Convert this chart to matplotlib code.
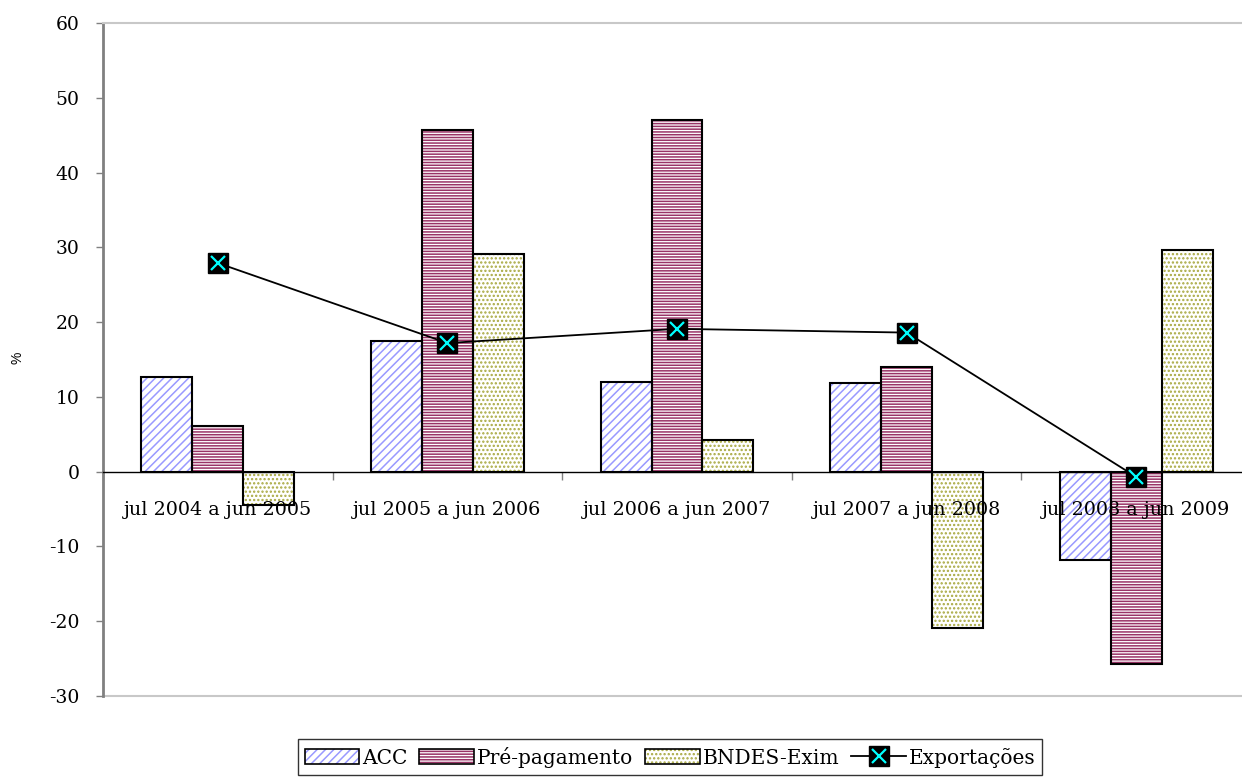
import matplotlib
matplotlib.use("Agg")
import matplotlib.pyplot as plt
import numpy as np
from matplotlib.patches import Patch
from matplotlib.lines import Line2D

categories = ["jul 2004 a jun 2005", "jul 2005 a jun 2006", "jul 2006 a jun 2007",
              "jul 2007 a jun 2008", "jul 2008 a jun 2009"]
acc = [12.6, 17.5, 12.0, 11.8, -11.8]
pre_pagamento = [6.1, 45.7, 47.0, 14.0, -25.7]
bndes_exim = [-4.4, 29.1, 4.3, -20.9, 29.6]
exportacoes = [27.9, 17.2, 19.1, 18.6, -0.7]

plt.rcParams["font.family"] = ["DejaVu Serif"]
plt.rcParams["font.size"] = 13
plt.rcParams["hatch.linewidth"] = 1.1
plt.rcParams["axes.unicode_minus"] = False

fig = plt.figure(figsize=(12.42, 7.82), dpi=100)
ax = fig.add_axes([103/1242, 86/782, 1148/1242, 673/782])

x = np.arange(len(categories))
w = 0.222
specs = [
    (acc, -w, "////", "#9999FF"),
    (pre_pagamento, 0, "------", "#993366"),
    (bndes_exim, w, "....", "#A8A840"),
]
for vals, off, hatch, hc in specs:
    ax.bar(x + off, vals, w, facecolor="white", edgecolor=hc, hatch=hatch, linewidth=0, zorder=1)
    ax.bar(x + off, vals, w, facecolor="none", edgecolor="black", linewidth=1.5, zorder=1.5)

ax.plot(x, exportacoes, color="black", lw=1.3, zorder=4)
ax.plot(x, exportacoes, ls="none", marker="s", ms=14, mfc="black", mec="black", zorder=5)
ax.plot(x, exportacoes, ls="none", marker="x", ms=10, mew=1.6, color="#00FFFF", zorder=6)

ax.set_xlim(-0.5, 4.5)
ax.set_ylim(-30, 60)
ax.set_yticks(np.arange(-30, 61, 10))
ax.tick_params(axis="y", length=5, width=1, color="#808080", pad=12, labelsize=13.5)

ax.set_xticks(np.arange(-0.5, 4.6, 1.0))
ax.set_xticklabels([""] * 6)
ax.set_xticks(x, minor=True)
ax.set_xticklabels(categories, minor=True)
ax.tick_params(axis="x", which="major", direction="out", length=6, width=1, color="#808080")
ax.tick_params(axis="x", which="minor", length=0, pad=21, labelsize=13.8)

ax.spines["bottom"].set_position(("data", 0))
ax.spines["bottom"].set_color("black")
ax.spines["bottom"].set_linewidth(1)
ax.spines["left"].set_color("#808080")
ax.spines["left"].set_linewidth(2)
ax.spines["right"].set_visible(False)
ax.spines["top"].set_color("#C8C8C8")
ax.spines["top"].set_linewidth(1.5)
ax.axhline(-30, color="#C8C8C8", lw=1.5, zorder=0.5, clip_on=False)

fig.text(17/1242, 1 - 358/782, "%", rotation=90, fontsize=10,
         fontfamily=["Liberation Sans"], ha="center", va="center")

handles = [
    Patch(facecolor="white", edgecolor="#9999FF", hatch="////", lw=0),
    Patch(facecolor="white", edgecolor="#993366", hatch="------", lw=0),
    Patch(facecolor="white", edgecolor="#A8A840", hatch="....", lw=0),
]
frames = [Patch(facecolor="none", edgecolor="black", lw=1.2) for _ in range(3)]
exp_handle = (Line2D([], [], color="black", lw=1.3, marker="s", ms=14, mfc="black", mec="black"),
              Line2D([], [], ls="none", marker="x", ms=10, mew=1.6, color="#00FFFF"))
handles2 = [(handles[0], frames[0]), (handles[1], frames[1]), (handles[2], frames[2]), exp_handle]
leg = fig.legend(handles2, ["ACC", "Pré-pagamento", "BNDES-Exim", "Exportações"],
                 loc="center", bbox_to_anchor=(670/1242, 1 - 757/782), ncol=4,
                 prop={"size": 14.5}, frameon=True, fancybox=False,
                 edgecolor="black", handlelength=2.7, handleheight=0.8, handletextpad=0.15,
                 columnspacing=0.6, borderpad=0.35)
leg.get_frame().set_linewidth(1.0)

fig.savefig("out.png", dpi=100)
